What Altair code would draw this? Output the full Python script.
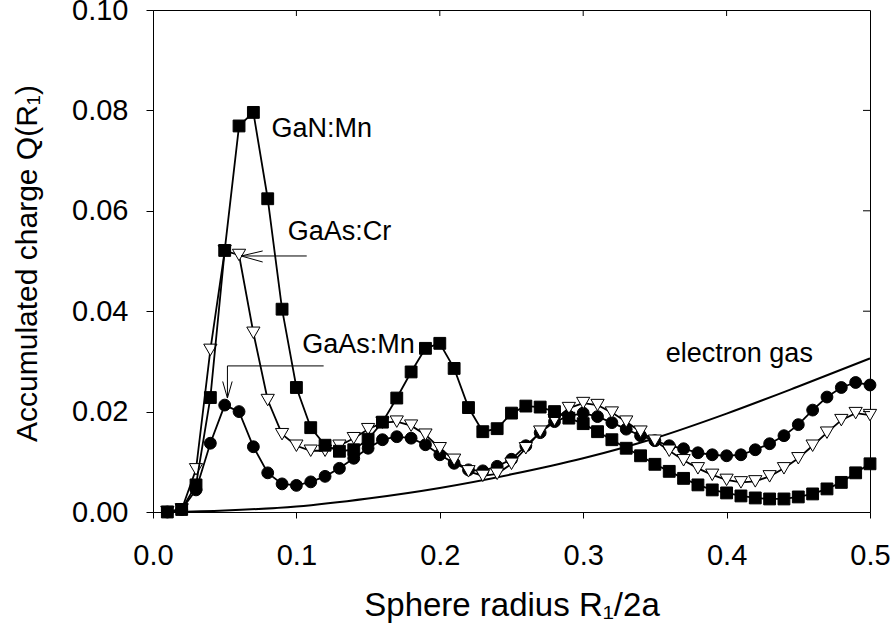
import altair as alt
import pandas as pd

# ---- data ----
radius = [round(0.01 * i, 2) for i in range(1, 51)]

gan_mn = [0.0000, 0.0005, 0.0054, 0.0228, 0.0521, 0.0769, 0.0796, 0.0624, 0.0404, 0.0248,
          0.0168, 0.0133, 0.0121, 0.0124, 0.0145, 0.0179, 0.0227, 0.0279, 0.0326, 0.0336,
          0.0286, 0.0208, 0.0160, 0.0166, 0.0197, 0.0211, 0.0209, 0.0200, 0.0187, 0.0176,
          0.0160, 0.0144, 0.0127, 0.0112, 0.0095, 0.0081, 0.0067, 0.0054, 0.0044, 0.0038,
          0.0032, 0.0028, 0.0026, 0.0026, 0.0030, 0.0036, 0.0046, 0.0059, 0.0078, 0.0096]

gaas_cr = [0.0000, 0.0005, 0.0085, 0.0323, 0.0520, 0.0512, 0.0357, 0.0223, 0.0155, 0.0132,
           0.0122, 0.0122, 0.0132, 0.0147, 0.0165, 0.0178, 0.0180, 0.0172, 0.0154, 0.0127,
           0.0104, 0.0081, 0.0072, 0.0076, 0.0096, 0.0127, 0.0160, 0.0183, 0.0207, 0.0217,
           0.0213, 0.0198, 0.0180, 0.0160, 0.0142, 0.0122, 0.0103, 0.0087, 0.0074, 0.0064,
           0.0059, 0.0061, 0.0071, 0.0087, 0.0107, 0.0132, 0.0158, 0.0183, 0.0197, 0.0193]

gaas_mn = [0.0000, 0.0005, 0.0044, 0.0137, 0.0213, 0.0200, 0.0130, 0.0078, 0.0056, 0.0053,
           0.0060, 0.0071, 0.0087, 0.0107, 0.0127, 0.0144, 0.0150, 0.0147, 0.0134, 0.0114,
           0.0097, 0.0084, 0.0082, 0.0091, 0.0105, 0.0132, 0.0158, 0.0180, 0.0191, 0.0197,
           0.0190, 0.0178, 0.0165, 0.0152, 0.0142, 0.0132, 0.0126, 0.0118, 0.0114, 0.0112,
           0.0114, 0.0124, 0.0136, 0.0152, 0.0174, 0.0203, 0.0229, 0.0248, 0.0258, 0.0253]

egas_r = [0.01, 0.05, 0.10, 0.15, 0.20, 0.25, 0.30, 0.35, 0.40, 0.45, 0.50]
egas_q = [0.0000, 0.0003, 0.0011, 0.0027, 0.0048, 0.0075, 0.0107, 0.0147, 0.0196, 0.0250, 0.0306]

x_ticks = [0.0, 0.1, 0.2, 0.3, 0.4, 0.5]
y_ticks = [0.0, 0.02, 0.04, 0.06, 0.08, 0.10]

label_text = ["GaN:Mn", "GaAs:Cr", "GaAs:Mn", "electron gas"]
label_r = [0.0826, 0.0939, 0.1040, 0.3576]
label_q = [0.0747, 0.0541, 0.0316, 0.0299]

# arrow segments (annotation lines): r, r2, q, q2
arrow_r = [0.0615, 0.0615, 0.0615, 0.0519, 0.0519, 0.0486, 0.0552]
arrow_r2 = [0.1072, 0.0765, 0.0765, 0.1190, 0.0519, 0.0519, 0.0519]
arrow_q = [0.0510, 0.0510, 0.0510, 0.0291, 0.0291, 0.0260, 0.0260]
arrow_q2 = [0.0510, 0.0520, 0.0498, 0.0291, 0.0227, 0.0227, 0.0227]

FONT = "Liberation Sans"
W, H = 717, 502

df_gan = pd.DataFrame({"r": radius, "q": gan_mn})
df_cr = pd.DataFrame({"r": radius, "q": gaas_cr})
df_mn = pd.DataFrame({"r": radius, "q": gaas_mn})
df_eg = pd.DataFrame({"r": egas_r, "q": egas_q})
df_lab = pd.DataFrame({"r": label_r, "q": label_q, "t": label_text})
df_arr = pd.DataFrame({"r": arrow_r, "r2": arrow_r2, "q": arrow_q, "q2": arrow_q2})
df_xt = pd.DataFrame({"r": x_ticks[1:-1]})
df_yt = pd.DataFrame({"q": y_ticks[1:-1]})

xscale = alt.Scale(domain=[0, 0.5], nice=False, zero=False)
yscale = alt.Scale(domain=[0, 0.1], nice=False, zero=False)

x_enc = alt.X("r:Q", scale=xscale, axis=alt.Axis(
    values=x_ticks, format=".1f", title="Sphere radius R₁/2a",
    tickSize=6, labelPadding=23, labelFontSize=29, labelFont=FONT,
    labelFlush=False, labelOverlap=False,
    titleFont=FONT, titleFontSize=33, titleFontWeight="normal",
    titleBaseline="alphabetic", titleY=103, grid=False,
    domainColor="black", tickColor="black", labelColor="black", titleColor="black"))
y_enc = alt.Y("q:Q", scale=yscale, axis=alt.Axis(
    values=y_ticks, format=".2f", title="Accumulated charge Q(R₁)",
    tickSize=7, labelPadding=18, labelFontSize=29, labelFont=FONT,
    labelFlush=False, labelOverlap=False,
    titleFont=FONT, titleFontSize=30, titleFontWeight="normal",
    titleBaseline="alphabetic", titleAngle=-90, titleX=-117, titleY=253,
    titleAlign="center", grid=False,
    domainColor="black", tickColor="black", labelColor="black", titleColor="black"))

def series_layers(df, shape, fill, size):
    line = alt.Chart(df).mark_line(color="black", strokeWidth=1.8).encode(x=x_enc, y=y_enc)
    pts = alt.Chart(df).mark_point(shape=shape, filled=True, fill=fill, stroke="black",
                                   strokeWidth=1, size=size, opacity=1).encode(x="r:Q", y="q:Q")
    return [line, pts]

egas = alt.Chart(df_eg).mark_line(color="black", strokeWidth=2, interpolate="monotone").encode(x=x_enc, y=y_enc)

labels = alt.Chart(df_lab).mark_text(align="left", baseline="alphabetic", font=FONT,
                                     fontSize=27, color="black").encode(x="r:Q", y="q:Q", text="t:N")
arrows = alt.Chart(df_arr).mark_rule(color="black", strokeWidth=1).encode(
    x="r:Q", x2="r2:Q", y="q:Q", y2="q2:Q")

top_ticks = alt.Chart(df_xt).mark_rule(color="black", strokeWidth=1).encode(
    x="r:Q", y=alt.value(0), y2=alt.value(6))
right_ticks = alt.Chart(df_yt).mark_rule(color="black", strokeWidth=1).encode(
    y="q:Q", x=alt.value(W - 7), x2=alt.value(W))

layers = [egas]
layers += series_layers(df_mn, "circle", "black", 140)
layers += series_layers(df_cr, "triangle-down", "white", 175)
layers += series_layers(df_gan, "square", "black", 140)
layers += [labels, arrows, top_ticks, right_ticks]

chart = alt.layer(*layers).properties(
    width=W, height=H,
    autosize=alt.AutoSizeParams(type="none"),
    padding={"left": 153, "top": 10, "right": 25, "bottom": 122},
    background="white",
).configure_view(stroke="black", strokeWidth=1)

chart.save("out.html", embed_options={"renderer": "svg", "actions": False})
